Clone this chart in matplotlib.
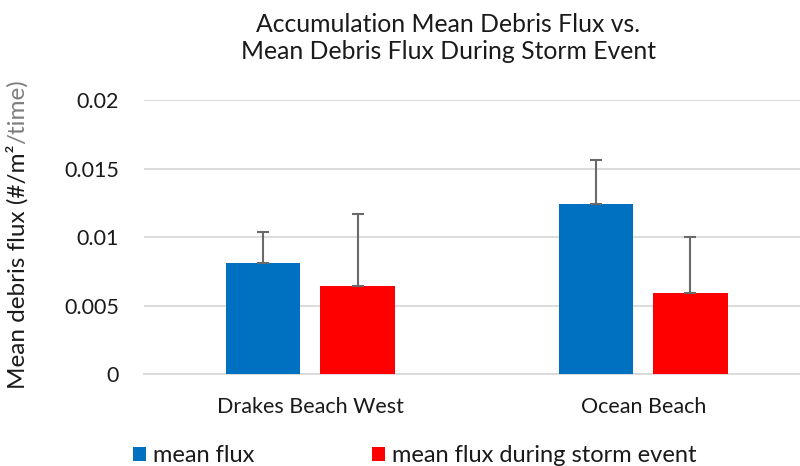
import matplotlib
matplotlib.use("Agg")
import matplotlib.pyplot as plt
import numpy as np

plt.rcParams['font.family'] = ['Lato', 'DejaVu Sans']

# data
sites = ["Drakes Beach West", "Ocean Beach"]
mean_flux = [0.00809, 0.01242]
mean_flux_err = [0.0023, 0.0032]
storm_flux = [0.00646, 0.00591]
storm_flux_err = [0.0052, 0.0041]
series_names = ["mean flux", "mean flux during storm event"]

blue = "#0070C0"
red = "#FF0000"
text_col = "#1a1a1a"

fig = plt.figure(figsize=(8, 4.66), dpi=100)
ax = fig.add_axes([0.18, 0.1968, 0.832, 0.5886])

x = np.arange(len(sites))
w = 0.224
off = 0.142
err_kw = dict(ecolor="#6a6a6a", elinewidth=1.5, capsize=4, capthick=1.5)

ax.bar(x - off, mean_flux, w, color=blue, label=series_names[0],
       yerr=[np.zeros(len(sites)), mean_flux_err], error_kw=err_kw, zorder=3)
ax.bar(x + off, storm_flux, w, color=red, label=series_names[1],
       yerr=[np.zeros(len(sites)), storm_flux_err], error_kw=err_kw, zorder=3)

ax.set_xlim(-0.5, 1.5)
ax.set_ylim(0, 0.02)
ax.set_yticks([0, 0.005, 0.01, 0.015, 0.02])
ax.set_yticklabels(["0", "0.005", "0.01", "0.015", "0.02"])
ax.set_xticks(x)
ax.set_xticklabels(sites)
ax.tick_params(length=0, labelsize=15.5, colors=text_col)
ax.tick_params(axis="y", pad=18)
ax.tick_params(axis="x", pad=16)
ax.grid(axis="y", color="#d9d9d9", linewidth=1.3, zorder=0)
for s in ["top", "right", "left"]:
    ax.spines[s].set_visible(False)
ax.spines["bottom"].set_color("#d9d9d9")
ax.spines["bottom"].set_linewidth(1.3)

# y label: the tail of it is grey in the original
yl = fig.text(0.0215, 0.165, "Mean debris flux (#/m²", rotation=90,
              ha="center", va="bottom", fontsize=17.5, color=text_col)
ax.annotate("/time)", xy=(0.5, 1.0), xycoords=yl, rotation=90,
            ha="center", va="bottom", fontsize=17.5, color="#7f7f7f")

fig.text(0.56, 0.918, "Accumulation Mean Debris Flux vs.\nMean Debris Flux During Storm Event",
         ha="center", va="center", fontsize=17.8, color=text_col, linespacing=1.2)

fig.legend(loc="lower left", bbox_to_anchor=(0.166, 0.0), ncol=2, frameon=False,
           fontsize=17, handlelength=0.55, handleheight=0.55, handletextpad=0.3,
           columnspacing=5.0, labelcolor=text_col, borderpad=0, borderaxespad=0)

fig.savefig("out.png", dpi=100)
